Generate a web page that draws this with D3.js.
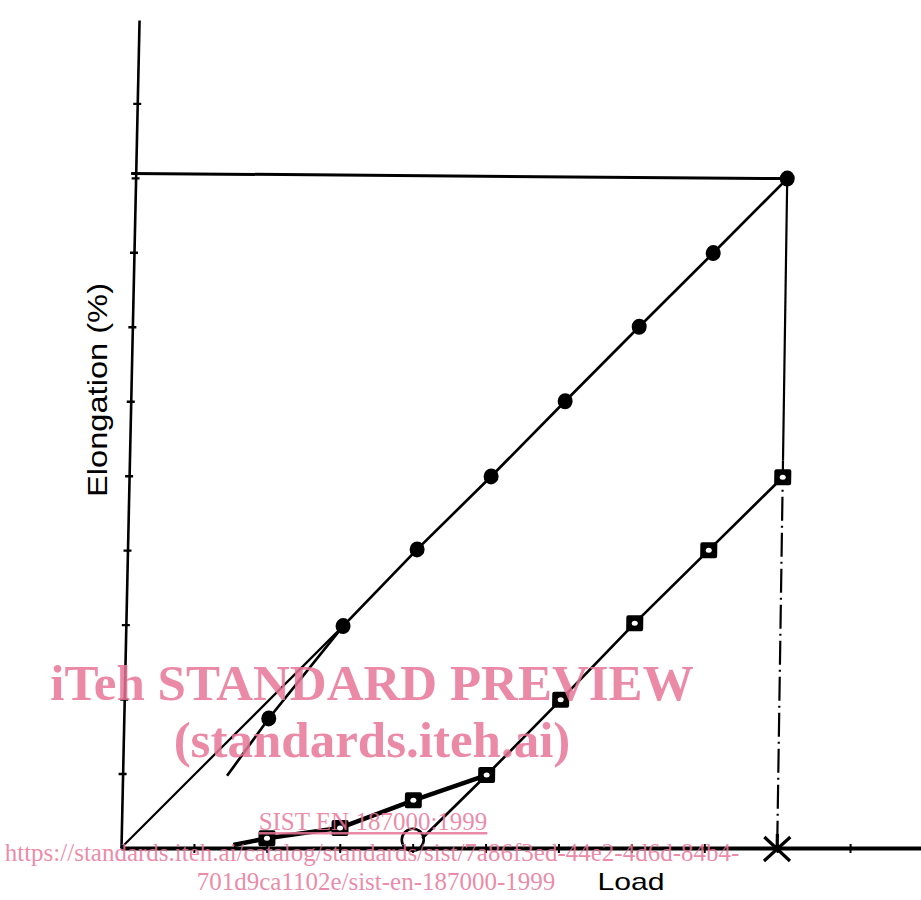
<!DOCTYPE html>
<html>
<head>
<meta charset="utf-8">
<script src="https://cdn.jsdelivr.net/npm/d3@7"></script>
<style>
  body { margin: 0; background: #fff; }
  svg { display: block; }
</style>
</head>
<body>
<svg id="chart" width="921" height="900"></svg>
<script>
// ticks on both axes
const loadTicks = [1, 2, 3, 4, 5, 6, 7, 8, 9, 10];
const elongTicks = [1, 2, 3, 4, 5, 6, 7, 8, 9, 10];

// upper curve (filled dots)
const upperLoad = [2, 3, 4, 5, 6, 7, 8, 9];
const upperElong = [1.74, 2.98, 4.01, 4.99, 6.0, 7.0, 7.99, 8.99];
const upperLead = [1.44, 0.97];

// lower curve (open squares)
const lowerLoad = [2, 3, 4, 5, 6, 7, 8, 9];
const lowerElong = [0.13, 0.27, 0.64, 0.98, 1.99, 3.02, 4.0, 4.98];
const lowerLead = [1.54, 0.04];

// construction lines
const tangentLine = [[0, 0], [3, 2.98]];
const offsetStart = [4.13, 0.13];
const offsetCircle = [4.0, 0.11];
const maxLine = [[0, 9.06], [9, 8.99]];
const dropSolid = [[9, 8.99], [9, 5.2]];
const dropDashed = [[9, 5.2], [9, 0.15]];
const crossPoint = [9, 0];

const svg = d3.select("#chart");
const ink = "#000";

const x = d3.scaleLinear().domain([0, 11]).range([121, 923]);
const y = d3.scaleLinear().domain([0, 11.12]).range([848, 20]);

const line = d3.line().x(d => x(d[0])).y(d => y(d[1]));

const upperPts = upperLoad.map((v, i) => [v, upperElong[i]]);
const lowerPts = lowerLoad.map((v, i) => [v, lowerElong[i]]);

// the scan is a little skewed
const plot = svg.append("g")
  .attr("transform", "translate(0,848) skewX(-0.86) translate(0,-848)");

// y axis (leans a bit more than the rest)
const yAxis = svg.append("g")
  .attr("transform", "translate(0,848) skewX(-1.25) translate(0,-848)")
  .append("g")
  .attr("transform", `translate(${x(0)},0)`)
  .call(d3.axisLeft(y).tickValues(elongTicks).tickFormat("").tickSizeOuter(0));
yAxis.select(".domain").attr("stroke", ink).attr("stroke-width", 2.6);
yAxis.selectAll(".tick line").attr("x1", -4).attr("x2", 4)
  .attr("stroke", ink).attr("stroke-width", 2.4);

// x axis
const xAxis = plot.append("g")
  .attr("transform", `translate(0,${y(0)})`)
  .call(d3.axisBottom(x).tickValues(loadTicks).tickFormat("").tickSizeOuter(0));
xAxis.select(".domain").attr("stroke", ink).attr("stroke-width", 4);
xAxis.selectAll(".tick line").attr("y1", -4).attr("y2", 5)
  .attr("stroke", ink).attr("stroke-width", 2);

// max elongation and drop line
plot.append("path").attr("d", line(maxLine))
  .attr("fill", "none").attr("stroke", ink).attr("stroke-width", 3);
plot.append("path").attr("d", line(dropSolid))
  .attr("fill", "none").attr("stroke", ink).attr("stroke-width", 2.2);
plot.append("path").attr("d", line(dropDashed))
  .attr("fill", "none").attr("stroke", ink).attr("stroke-width", 2.2)
  .attr("stroke-dasharray", "24,5,2,5");

// tangent from origin
plot.append("path").attr("d", line(tangentLine))
  .attr("fill", "none").attr("stroke", ink).attr("stroke-width", 2.2);

// upper curve
plot.append("path").attr("d", line([upperLead].concat(upperPts)))
  .attr("fill", "none").attr("stroke", ink).attr("stroke-width", 2.7);

// lower curve: thick foot, thin straight part
plot.append("path").attr("d", line([lowerLead].concat(lowerPts.slice(0, 4))))
  .attr("fill", "none").attr("stroke", ink).attr("stroke-width", 4.5)
  .attr("stroke-linejoin", "round");
plot.append("path").attr("d", line([offsetStart].concat(lowerPts.slice(3))))
  .attr("fill", "none").attr("stroke", ink).attr("stroke-width", 2.7);

plot.append("circle")
  .attr("cx", x(offsetCircle[0])).attr("cy", y(offsetCircle[1])).attr("r", 11)
  .attr("fill", "none").attr("stroke", ink).attr("stroke-width", 2.6);

plot.append("path")
  .attr("transform", `translate(${x(crossPoint[0])},${y(crossPoint[1])})`)
  .attr("d", "M-13,-11Q0,1 13,13M-13,13Q0,1 13,-11M0,-14V2")
  .attr("fill", "none").attr("stroke", ink).attr("stroke-width", 3.2);

// markers
plot.selectAll(".dot").data(upperPts).join("ellipse")
  .attr("class", "dot")
  .attr("cx", d => x(d[0])).attr("cy", d => y(d[1]))
  .attr("rx", 7.5).attr("ry", 8).attr("fill", ink);

const sq = plot.selectAll(".sq").data(lowerPts).join("g")
  .attr("class", "sq")
  .attr("transform", d => `translate(${x(d[0])},${y(d[1])})`);
sq.append("rect").attr("x", -8.5).attr("y", -8).attr("width", 17).attr("height", 16)
  .attr("rx", 2).attr("fill", ink);
sq.append("ellipse").attr("rx", 3).attr("ry", 2.5).attr("fill", "#fff");

// axis titles
svg.append("text")
  .attr("transform", "translate(107,390) rotate(-90)")
  .attr("text-anchor", "middle")
  .attr("font-family", "Liberation Sans, Arial, sans-serif")
  .attr("font-size", 28)
  .attr("textLength", 214)
  .attr("lengthAdjust", "spacingAndGlyphs")
  .attr("fill", ink)
  .text("Elongation (%)");

svg.append("text")
  .attr("x", 631).attr("y", 890)
  .attr("text-anchor", "middle")
  .attr("font-family", "Liberation Sans, Arial, sans-serif")
  .attr("font-size", 24)
  .attr("textLength", 67)
  .attr("lengthAdjust", "spacingAndGlyphs")
  .attr("fill", ink)
  .text("Load");

// watermark
const wm = svg.append("g")
  .attr("font-family", "Liberation Serif, Times New Roman, serif")
  .attr("fill", "rgb(232,118,152)")
  .attr("fill-opacity", 0.85)
  .attr("text-anchor", "middle");
wm.append("text").attr("x", 372).attr("y", 700)
  .attr("font-size", 51).attr("font-weight", "bold")
  .text("iTeh STANDARD PREVIEW");
wm.append("text").attr("x", 372).attr("y", 757)
  .attr("font-size", 51).attr("font-weight", "bold")
  .text("(standards.iteh.ai)");
wm.append("text").attr("x", 373).attr("y", 830)
  .attr("font-size", 25).attr("text-decoration", "underline")
  .text("SIST EN 187000:1999");
wm.append("text").attr("x", 372).attr("y", 861)
  .attr("font-size", 25)
  .text("https://standards.iteh.ai/catalog/standards/sist/7a86f3ed-44e2-4d6d-84b4-");
wm.append("text").attr("x", 376).attr("y", 890)
  .attr("font-size", 25)
  .text("701d9ca1102e/sist-en-187000-1999");
</script>
</body>
</html>
